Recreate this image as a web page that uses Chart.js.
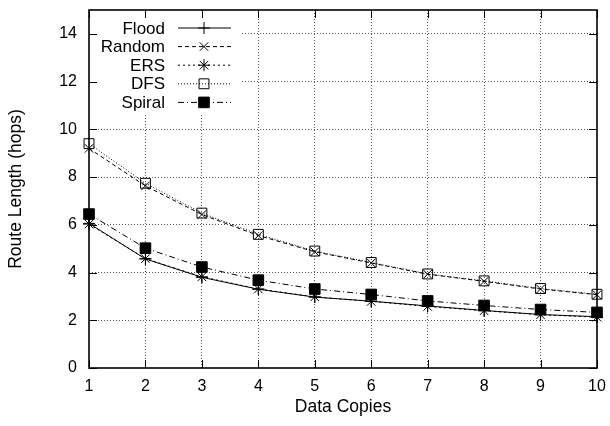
<!DOCTYPE html>
<html>
<head>
<meta charset="utf-8">
<script src="https://cdn.jsdelivr.net/npm/chart.js@4/dist/chart.umd.min.js"></script>
<style>
  html, body { margin: 0; padding: 0; background: #fff; }
  #wrap { width: 610px; height: 426px; }
</style>
</head>
<body>
<div id="wrap"><canvas id="chart" width="610" height="426"></canvas></div>
<script>
// Données
const copies = [1, 2, 3, 4, 5, 6, 7, 8, 9, 10];
const flood  = [6.06, 4.57, 3.80, 3.30, 2.97, 2.80, 2.60, 2.41, 2.24, 2.15];
const random = [9.20, 7.63, 6.43, 5.55, 4.87, 4.40, 3.93, 3.63, 3.31, 3.07];
const ers    = [6.03, 4.58, 3.82, 3.31, 2.98, 2.79, 2.58, 2.40, 2.23, 2.13];
const dfs    = [9.40, 7.74, 6.49, 5.60, 4.90, 4.42, 3.94, 3.65, 3.33, 3.09];
const spiral = [6.45, 5.02, 4.23, 3.68, 3.31, 3.08, 2.81, 2.62, 2.45, 2.33];
const yTicks = [0, 2, 4, 6, 8, 10, 12, 14];
const seriesNames = ['Flood', 'Random', 'ERS', 'DFS', 'Spiral'];

const FONT = "'Liberation Sans', Arial, Helvetica, sans-serif";

function pts(values) {
    return copies.map((c, i) => ({ x: c, y: values[i] }));
}

// Styles façon gnuplot
const styles = [
    { dash: [],           pointStyle: 'cross',    radius: 6, fill: 'transparent' },
    { dash: [4, 3],       pointStyle: 'crossRot', radius: 6, fill: 'transparent' },
    { dash: [2, 3],       pointStyle: 'star',     radius: 6, fill: 'transparent' },
    { dash: [1, 2],       pointStyle: 'rect',     radius: 7, fill: 'transparent' },
    { dash: [6, 3, 1, 3], pointStyle: 'rect',     radius: 7.5, fill: '#000' }
];
const seriesData = [flood, random, ers, dfs, spiral];

const datasets = seriesNames.map((name, i) => ({
    label: name,
    data: pts(seriesData[i]),
    borderColor: '#000',
    borderWidth: 1,
    borderDash: styles[i].dash,
    pointStyle: styles[i].pointStyle,
    pointRadius: styles[i].radius,
    pointBorderWidth: 1,
    pointBorderColor: '#000',
    pointBackgroundColor: styles[i].fill,
    tension: 0,
    clip: false,
    order: seriesNames.length - i
}));

// Légende gnuplot (texte à gauche, trait à droite) + cadre et graduations internes
const gnuplotPlugin = {
    id: 'gnuplot',
    beforeDatasetsDraw(chart) {
        const ctx = chart.ctx;
        const a = chart.chartArea;
        ctx.save();
        ctx.fillStyle = '#fff';
        ctx.fillRect(a.left + 1, a.top + 1, 152, 102);
        ctx.font = '17px ' + FONT;
        ctx.textAlign = 'right';
        ctx.textBaseline = 'middle';
        chart.data.datasets.forEach((ds, i) => {
            const y = a.top + 18 + i * 18.6;
            ctx.fillStyle = '#000';
            ctx.fillText(ds.label, 165, y + 1);
            ctx.strokeStyle = '#000';
            ctx.lineWidth = 1;
            ctx.setLineDash(ds.borderDash);
            ctx.beginPath();
            ctx.moveTo(178, y);
            ctx.lineTo(231, y);
            ctx.stroke();
            ctx.setLineDash([]);
            ctx.fillStyle = ds.pointBackgroundColor;
            Chart.helpers.drawPoint(ctx, {
                pointStyle: ds.pointStyle,
                radius: ds.pointRadius,
                borderWidth: 1,
                rotation: 0
            }, 204, y);
        });
        ctx.restore();
    },
    afterDraw(chart) {
        const ctx = chart.ctx;
        const a = chart.chartArea;
        const xs = chart.scales.x;
        const ys = chart.scales.y;
        const len = 8;
        ctx.save();
        ctx.strokeStyle = '#000';
        ctx.lineWidth = 1;
        ctx.beginPath();
        xs.ticks.forEach(t => {
            const px = Math.round(xs.getPixelForValue(t.value)) + 0.5;
            ctx.moveTo(px, a.bottom); ctx.lineTo(px, a.bottom - len);
            ctx.moveTo(px, a.top); ctx.lineTo(px, a.top + len);
        });
        ys.ticks.forEach(t => {
            const py = Math.round(ys.getPixelForValue(t.value)) + 0.5;
            ctx.moveTo(a.left, py); ctx.lineTo(a.left + len, py);
            ctx.moveTo(a.right, py); ctx.lineTo(a.right - len, py);
        });
        ctx.stroke();
        ctx.lineWidth = 1.6;
        ctx.strokeRect(a.left, a.top, a.right - a.left, a.bottom - a.top);
        ctx.restore();
    }
};

const gridColor = (ctx) => {
    const s = ctx.scale;
    if (ctx.tick && (ctx.tick.value === s.min || ctx.tick.value === s.max)) return 'rgba(0,0,0,0)';
    return '#555';
};

// Supprimer les marges automatiques des axes pour fixer la zone de tracé
function noPadding(scale) {
    scale.paddingTop = 0;
    scale.paddingBottom = 0;
    scale.paddingLeft = 0;
    scale.paddingRight = 0;
}

new Chart(document.getElementById('chart'), {
    type: 'line',
    data: { datasets: datasets },
    options: {
        responsive: false,
        animation: false,
        events: [],
        layout: { padding: { top: 10, right: 13, left: 0, bottom: 0 } },
        plugins: {
            legend: { display: false },
            tooltip: { enabled: false }
        },
        scales: {
            x: {
                type: 'linear',
                min: 1,
                max: 10,
                ticks: {
                    stepSize: 1,
                    color: '#000',
                    padding: 9,
                    maxRotation: 0,
                    font: { family: FONT, size: 16 }
                },
                grid: { color: gridColor, lineWidth: 1, drawTicks: false },
                border: { display: false, dash: [1, 2] },
                title: {
                    display: true,
                    text: 'Data Copies',
                    color: '#000',
                    font: { family: FONT, size: 17.5 },
                    padding: { top: 0, bottom: 8 }
                },
                afterFit(scale) { scale.height = 58; noPadding(scale); }
            },
            y: {
                type: 'linear',
                min: 0,
                max: 15,
                afterBuildTicks(scale) {
                    scale.ticks = yTicks.map(v => ({ value: v }));
                },
                ticks: {
                    color: '#000',
                    padding: 12,
                    font: { family: FONT, size: 16 }
                },
                grid: { color: gridColor, lineWidth: 1, drawTicks: false },
                border: { display: false, dash: [1, 2] },
                title: {
                    display: true,
                    text: 'Route Length (hops)',
                    color: '#000',
                    font: { family: FONT, size: 17.5 },
                    padding: { top: 6, bottom: 0 }
                },
                afterFit(scale) { scale.width = 89; noPadding(scale); }
            }
        }
    },
    plugins: [gnuplotPlugin]
});
</script>
</body>
</html>
